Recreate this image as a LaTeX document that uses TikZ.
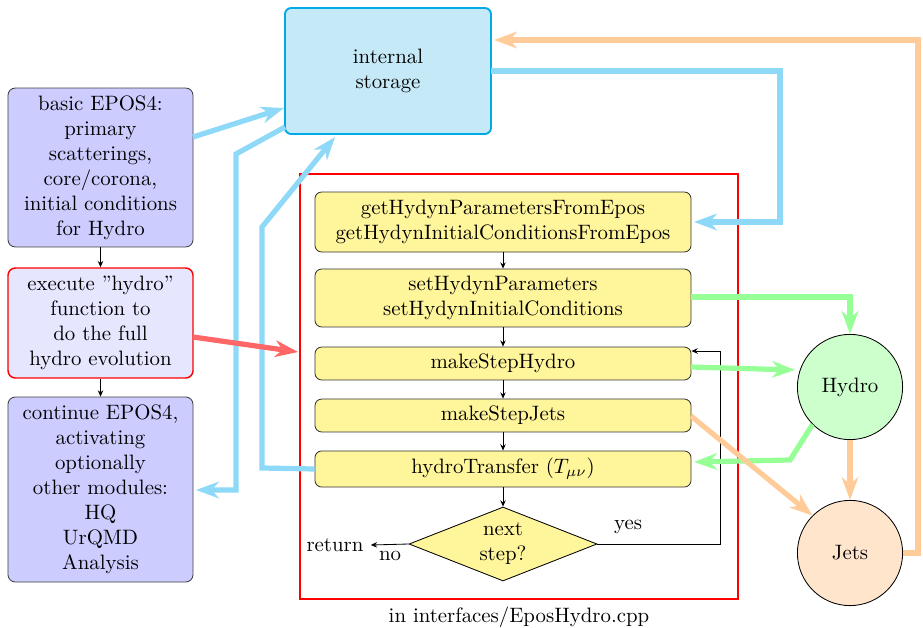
\documentclass[tikz,border=0pt]{standalone}
\usetikzlibrary{arrows.meta,shapes.geometric}
\definecolor{stfill}{RGB}{198,233,248}
\definecolor{stdraw}{RGB}{0,170,230}
\definecolor{bluebox}{RGB}{204,204,255}
\definecolor{bluebox2}{RGB}{230,230,255}
\definecolor{yelbox}{RGB}{255,245,155}
\definecolor{hydfill}{RGB}{204,255,204}
\definecolor{jetfill}{RGB}{255,229,204}
\definecolor{bluearr}{RGB}{142,216,248}
\definecolor{greenarr}{RGB}{150,255,150}
\definecolor{orangearr}{RGB}{255,204,153}
\definecolor{redarr}{RGB}{255,102,102}
\tikzset{
  leftbox/.style={draw=black!75,rounded corners=3.5pt,align=center,inner sep=1pt,minimum width=88.8pt,text width=86pt},
  ybox/.style={draw=black!80,fill=yelbox,rounded corners=3.2pt,align=center,inner sep=1pt,minimum width=180.5pt},
  thinarr/.style={draw=black,line width=0.4pt,-{Stealth[length=3pt,width=2.6pt]}},
  fat/.style={line width=2.5pt,-{Stealth[length=11pt,width=8pt,inset=3.5pt]}},
  circ/.style={circle,draw=black,minimum size=50.5pt,inner sep=0pt},
}
\begin{document}
\begin{tikzpicture}[x=0.48pt,y=-0.48pt]
\useasboundingbox (0,0) rectangle (923,628);
% nodes
\node[draw=stdraw,line width=0.9pt,fill=stfill,rounded corners=3pt,minimum width=98.9pt,minimum height=60.5pt,align=center] (storage) at (388,71) {internal\\storage};
\node[leftbox,fill=bluebox,minimum height=76.3pt] (basic) at (100.5,167.5) {basic EPOS4:\\primary\\scatterings,\\core/corona,\\initial conditions\\for Hydro};
\node[leftbox,fill=bluebox2,draw=red,line width=0.7pt,minimum height=52.8pt] (exec) at (100.5,323) {execute "hydro"\\function to\\do the full\\hydro evolution};
\node[leftbox,fill=bluebox,minimum height=88.8pt] (cont) at (100.5,489.5) {continue EPOS4,\\activating\\optionally\\other modules:\\HQ\\UrQMD\\Analysis};
\node[draw=red,line width=0.7pt,minimum width=210.2pt,minimum height=204pt,inner sep=0pt] (frame) at (519,386.5) {};
\node (caption) at (519,617) {in interfaces/EposHydro.cpp};
\node[ybox,minimum height=28.8pt] (get) at (503,222) {getHydynParametersFromEpos\\getHydynInitialConditionsFromEpos};
\node[ybox,minimum height=27.8pt] (set) at (503,298) {setHydynParameters\\setHydynInitialConditions};
\node[ybox,minimum height=15.8pt] (msh) at (503,363.5) {makeStepHydro};
\node[ybox,minimum height=15.8pt] (msj) at (503,415.5) {makeStepJets};
\node[ybox,minimum height=17.3pt] (ht) at (503,469) {hydroTransfer ($T_{\mu\nu}$)};
\node[diamond,draw=black,fill=yelbox,aspect=2.5,inner sep=0pt,minimum width=90.2pt,minimum height=35.5pt,align=center] (dia) at (503,544) {next\\step?};
\node (ret) at (335,545) {return};
\node (no) at (390,556) {no};
\node (yes) at (628,527) {yes};
\node[circ,fill=hydfill] (hydro) at (850,387) {Hydro};
\node[circ,fill=jetfill] (jets) at (850,553) {Jets};
% thin arrows
\draw[thinarr] (basic) -- (exec);
\draw[thinarr] (exec) -- (cont);
\draw[thinarr] (get) -- (set);
\draw[thinarr] (set) -- (msh);
\draw[thinarr] (msh) -- (msj);
\draw[thinarr] (msj) -- (ht);
\draw[thinarr] (ht) -- (dia);
\draw[thinarr] (dia.west) -- (ret.east);
\coordinate (loopR) at (720,351);
\draw[thinarr] (dia.east) -| (loopR) -- (loopR -| msh.east);
% coordinates for thick arrows
\coordinate (b1s) at (193,137);
\coordinate (b1e) at (284,108);
\coordinate (b2s) at (491,71);
\coordinate (b2a) at (780,71);
\coordinate (b2b) at (780,222);
\coordinate (b2e) at (694,222);
\coordinate (b3s) at (285,127);
\coordinate (b3a) at (236,154);
\coordinate (b3b) at (236,490);
\coordinate (b3e) at (196,490);
\coordinate (b4a) at (262,468);
\coordinate (b4b) at (262,227);
\coordinate (b4e) at (335,137);
\coordinate (r1s) at (193,337);
\coordinate (r1e) at (298,352);
\coordinate (g1s) at (691,297);
\coordinate (g1a) at (850,297);
\coordinate (g2s) at (691,367);
\coordinate (g2e) at (795,370);
\coordinate (g3a) at (790,460);
\coordinate (g3e) at (694,462);
\coordinate (o1s) at (691,416);
\coordinate (o3a) at (918,553);
\coordinate (o3b) at (918,40);
\coordinate (o3e) at (494,40);
% thick arrows
\draw[fat,bluearr] (b1s) -- (b1e);
\draw[fat,bluearr] (b2s) -- (b2a) -- (b2b) -- (b2e);
\draw[fat,bluearr] (b3s) -- (b3a) -- (b3b) -- (b3e);
\draw[fat,bluearr] (ht.west) -- (b4a) -- (b4b) -- (b4e);
\draw[fat,redarr] (r1s) -- (r1e);
\draw[fat,greenarr] (g1s) -- (g1a) -- (hydro.north);
\draw[fat,greenarr] (g2s) -- (g2e);
\draw[fat,greenarr] (hydro.225) -- (g3a) -- (g3e);
\draw[fat,orangearr] (o1s) -- (jets.135);
\draw[fat,orangearr] (hydro.south) -- (jets.north);
\draw[fat,orangearr] (jets.east) -- (o3a) -- (o3b) -- (o3e);
\end{tikzpicture}
\end{document}
